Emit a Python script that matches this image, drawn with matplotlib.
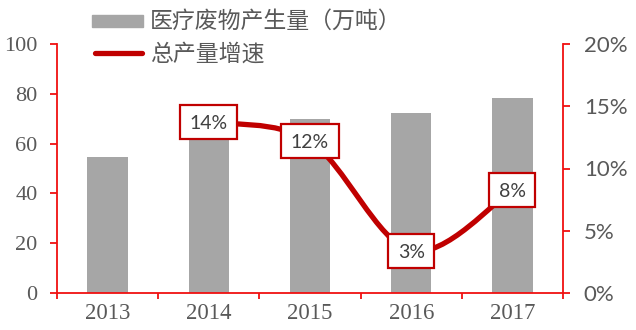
import matplotlib
matplotlib.use('Agg')
import matplotlib.pyplot as plt
from matplotlib.path import Path
from matplotlib.patches import PathPatch, Rectangle
from matplotlib.lines import Line2D
from matplotlib.transforms import IdentityTransform

# ---- data ----
years = ['2013', '2014', '2015', '2016', '2017']
waste = [54.8, 62.3, 69.9, 72.3, 78.3]          # 医疗废物产生量（万吨）
growth_idx = [1, 2, 3, 4]                        # 2014..2017
growth = [13.7, 12.2, 3.4, 8.3]                  # 总产量增速 (%)
growth_labels = ['14%', '12%', '3%', '8%']
left_ticks = [0, 20, 40, 60, 80, 100]
right_ticks = [0, 5, 10, 15, 20]
right_tick_labels = ['0%', '5%', '10%', '15%', '20%']
legend_labels = ['医疗废物产生量（万吨）', '总产量增速']

BAR = '#A6A6A6'
LINE = '#C00000'
SPINE = '#F01010'
TXT = '#595959'

fig = plt.figure(figsize=(6.36, 3.30), dpi=100)
ax = fig.add_axes([57 / 636, 37 / 330, (563 - 57) / 636, 249 / 330])
x = list(range(len(years)))
ax.bar(x, waste, width=0.4, color=BAR, zorder=2)
ax.set_xlim(-0.5, len(years) - 0.5)
ax.set_ylim(0, 100)
ax.set_yticks(left_ticks)
ax.set_yticklabels([str(v) for v in left_ticks], family='Liberation Serif', fontsize=16, color=TXT)
ax.set_xticks([i - 0.5 for i in range(len(years) + 1)])
ax.set_xticklabels([])
ax.set_xticks(x, minor=True)
ax.set_xticklabels(years, minor=True, family='Liberation Serif', fontsize=16.5, color=TXT)
ax.tick_params(axis='x', which='major', direction='out', length=4.5, width=1.3, color=SPINE)
ax.tick_params(axis='x', which='minor', length=0, pad=7)
ax.tick_params(axis='y', direction='out', length=5, width=1.3, color=SPINE, pad=9)
for s in ['top', 'right']:
    ax.spines[s].set_visible(False)
for s in ['left', 'bottom']:
    ax.spines[s].set_color(SPINE)
    ax.spines[s].set_linewidth(1.3)

ax2 = ax.twinx()
ax2.set_ylim(0, 20)
ax2.set_yticks(right_ticks)
ax2.set_yticklabels(right_tick_labels, family='Lato', fontsize=16, color=TXT)
ax2.tick_params(axis='y', direction='out', length=5, width=1.3, color=SPINE, pad=10)
for s in ['top', 'left', 'bottom']:
    ax2.spines[s].set_visible(False)
ax2.spines['right'].set_color(SPINE)
ax2.spines['right'].set_linewidth(1.3)

# smooth (Catmull-Rom) curve through the growth points
pts = list(zip(growth_idx, growth))
verts = [pts[0]]
codes = [Path.MOVETO]
n = len(pts)
for i in range(n - 1):
    p0 = pts[i - 1] if i > 0 else pts[i]
    p1 = pts[i]
    p2 = pts[i + 1]
    p3 = pts[i + 2] if i + 2 < n else pts[i + 1]
    c1 = (p1[0] + (p2[0] - p0[0]) / 6, p1[1] + (p2[1] - p0[1]) / 6)
    c2 = (p2[0] - (p3[0] - p1[0]) / 6, p2[1] - (p3[1] - p1[1]) / 6)
    verts += [c1, c2, p2]
    codes += [Path.CURVE4] * 3
ax2.add_patch(PathPatch(Path(verts, codes), fill=False, edgecolor=LINE, lw=3.8,
                        capstyle='round', joinstyle='round', zorder=3))

texts = []
for xi, yi, lab in zip(growth_idx, growth, growth_labels):
    t = ax2.text(xi, yi, lab, ha='center', va='center_baseline', family='Lato', fontsize=14,
                 color='#404040', zorder=6)
    texts.append(t)

# legend (drawn in figure pixel coordinates)
W, H = 636, 330
fig.patches.append(Rectangle((92 / W, 1 - 27 / H), 51 / W, 12 / H, transform=fig.transFigure,
                             color=BAR, zorder=5))
fig.lines.append(Line2D([95 / W, 142 / W], [1 - 53 / H, 1 - 53 / H], transform=fig.transFigure,
                        color=LINE, lw=3.8, solid_capstyle='round'))
fig.text(150 / W, 1 - 21 / H, legend_labels[0], family=['Noto Sans CJK SC', 'DejaVu Sans'],
         fontsize=16.5, color=TXT, va='center', ha='left')
fig.text(150 / W, 1 - 54 / H, legend_labels[1], family=['Noto Sans CJK SC', 'DejaVu Sans'],
         fontsize=16.5, color=TXT, va='center', ha='left')

# data-label boxes sized around the text
fig.canvas.draw()
for t, xi, yi in zip(texts, growth_idx, growth):
    bb = t.get_window_extent()
    cx, cy = ax2.transData.transform((xi, yi))
    w = bb.width + 19
    h = 34
    ax2.add_patch(Rectangle((cx - w / 2, cy - h / 2), w, h, transform=IdentityTransform(),
                            fc='white', ec=LINE, lw=1.6, zorder=5))

fig.savefig('out.png', dpi=100)
